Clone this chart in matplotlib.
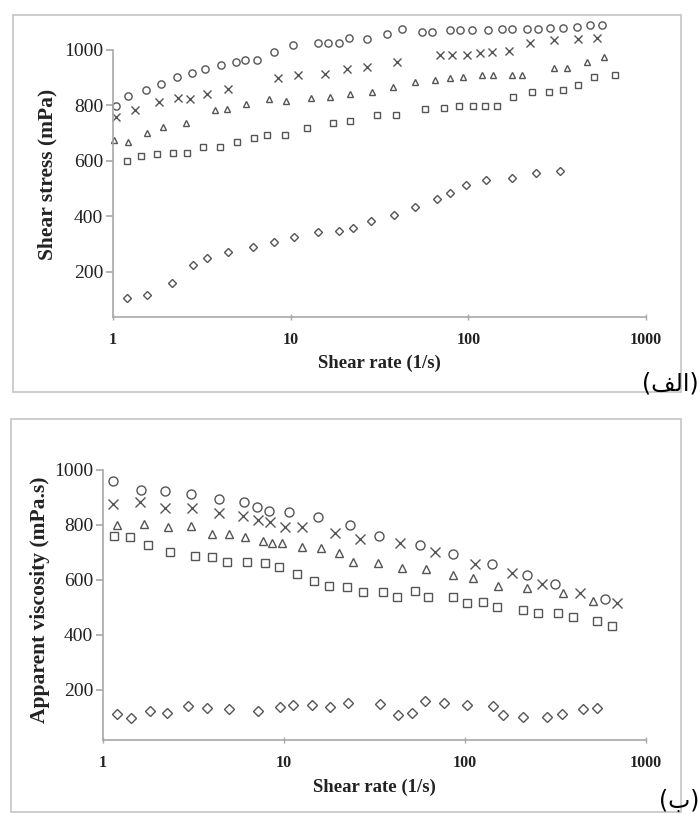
"""
Rheology of the samples: shear stress (a) and apparent viscosity (b)
against shear rate, two stacked log-x scatter panels.
"""

import matplotlib

matplotlib.use("Agg")
import matplotlib.pyplot as plt
from matplotlib.patches import Rectangle

W_PX, H_PX = 699, 814
DPI = 100

SERIF = "Liberation Serif"
MARKER_COLOR = "#555555"
AXIS_COLOR = "#a8a8a8"
BOX_COLOR = "#c9c9c9"
TEXT_COLOR = "#222222"

X_TICKS = [1, 10, 100, 1000]
X_TICK_LABELS = ["1", "10", "100", "1000"]
Y_TICKS = [200, 400, 600, 800, 1000]
X_LABEL = "Shear rate (1/s)"

# ---- panel (a): shear stress (mPa) ----
A_YLABEL = "Shear stress (mPa)"
A_TAG = "(\ufed2\ufedf\ufe8d)"  # (الف) in presentation forms, visual order

a_rate_o = [1.04, 1.21, 1.53, 1.86, 2.29, 2.78, 3.29, 4.05, 4.92, 5.53, 6.46, 8.05,
            10.3, 14.3, 16.2, 18.7, 21.3, 26.9, 34.8, 42.3, 54.8, 62.4, 78.8, 89.7,
            105, 129, 154, 176, 214, 246, 288, 341, 408, 483, 565]
a_stress_o = [798, 834, 856, 877, 903, 917, 931, 946, 957, 964, 964, 993,
              1018, 1025, 1025, 1025, 1042, 1040, 1058, 1076, 1065, 1065, 1072, 1072,
              1072, 1072, 1076, 1076, 1076, 1076, 1079, 1079, 1083, 1090, 1090]

a_rate_x = [1.04, 1.33, 1.81, 2.32, 2.71, 3.38, 4.44, 8.48, 11.0, 15.6, 20.8, 26.9,
            39.6, 69.2, 80.8, 98.2, 116, 136, 169, 222, 303, 414, 529]
a_stress_x = [758, 783, 812, 827, 823, 841, 859, 899, 910, 913, 930, 939,
              957, 982, 982, 982, 989, 993, 996, 1025, 1036, 1040, 1043]

a_rate_tri = [1.01, 1.21, 1.55, 1.91, 2.57, 3.75, 4.38, 5.60, 7.55, 9.41, 13.0, 16.6,
              21.5, 28.7, 37.6, 50.1, 64.9, 78.8, 93.3, 119, 137, 176, 200, 303,
              359, 465, 579]
a_stress_tri = [675, 668, 700, 722, 736, 783, 787, 805, 823, 816, 827, 830,
                841, 848, 866, 884, 892, 899, 903, 910, 910, 910, 910, 935,
                935, 957, 975]

a_rate_sq = [1.20, 1.44, 1.77, 2.18, 2.61, 3.21, 4.00, 4.99, 6.22, 7.36, 9.30, 12.4,
             17.3, 21.5, 30.6, 39.1, 57.0, 72.9, 88.5, 106, 124, 145, 178, 228,
             284, 341, 414, 509, 668]
a_stress_sq = [599, 617, 625, 628, 628, 650, 650, 668, 682, 693, 693, 718,
               736, 742, 765, 765, 787, 791, 798, 798, 798, 798, 830, 848,
               848, 856, 874, 903, 910]

a_rate_dia = [1.20, 1.55, 2.15, 2.82, 3.38, 4.44, 6.13, 8.05, 10.4, 14.3, 18.7, 22.4,
              28.3, 38.1, 50.1, 66.6, 78.8, 96.9, 126, 176, 240, 328]
a_stress_dia = [105, 116, 159, 224, 249, 271, 289, 307, 325, 343, 347, 357,
                383, 404, 433, 462, 484, 513, 531, 538, 556, 563]

# ---- panel (b): apparent viscosity (mPa.s) ----
B_YLABEL = "Apparent viscosity (mPa.s)"
B_TAG = "(\ufe8f)"  # (ب)

b_rate_o = [1.14, 1.62, 2.20, 3.06, 4.37, 6.01, 7.09, 8.27, 10.7, 15.4, 23.2, 33.5,
            56.4, 85.8, 141, 220, 314, 593]
b_visc_o = [960, 927, 924, 913, 895, 884, 865, 851, 847, 829, 800, 760,
            727, 695, 658, 618, 585, 531]

b_rate_x = [1.14, 1.60, 2.20, 3.10, 4.37, 5.94, 7.18, 8.37, 10.1, 12.6, 19.1, 26.3,
            43.7, 68.3, 114, 182, 266, 432, 692]
b_visc_x = [876, 884, 862, 862, 844, 833, 818, 811, 793, 793, 771, 749,
            735, 702, 658, 625, 585, 553, 516]

b_rate_tri = [1.19, 1.69, 2.29, 3.06, 4.00, 4.97, 6.09, 7.65, 8.58, 9.75, 12.6, 16.0,
              20.1, 24.1, 33.1, 44.9, 60.9, 85.8, 111, 152, 220, 348, 510]
b_visc_tri = [800, 804, 793, 796, 767, 767, 756, 742, 735, 735, 720, 716,
              698, 665, 662, 644, 640, 618, 607, 578, 571, 553, 524]

b_rate_sq = [1.15, 1.41, 1.77, 2.35, 3.22, 4.00, 4.84, 6.25, 7.85, 9.38, 11.8, 14.6,
             17.7, 22.3, 27.3, 35.2, 42.1, 52.9, 62.5, 85.8, 103, 126, 150, 209,
             253, 326, 395, 536, 649]
b_visc_sq = [760, 756, 727, 702, 687, 684, 665, 665, 662, 647, 622, 596,
             578, 575, 556, 556, 538, 560, 538, 538, 516, 520, 502, 491,
             480, 480, 466, 451, 433]

b_rate_dia = [1.19, 1.43, 1.82, 2.26, 2.95, 3.75, 4.97, 7.18, 9.50, 11.2, 14.3, 17.9,
              22.6, 33.9, 42.7, 50.9, 60.1, 76.5, 103, 143, 162, 209, 284, 344,
              449, 536]
b_visc_dia = [113, 98, 124, 116, 142, 135, 131, 124, 138, 145, 145, 138,
              153, 149, 109, 116, 160, 153, 145, 142, 109, 102, 102, 113,
              131, 135]


def px_rect(left, top, right, bottom):
    """pixel box -> figure fraction [x0, y0, w, h]"""
    return [left / W_PX, 1 - bottom / H_PX, (right - left) / W_PX, (bottom - top) / H_PX]


def draw_panel(ax, series, ylim, ms):
    for (x, y, marker, scale) in series:
        ax.plot(x, y, linestyle="none", marker=marker, markersize=ms * scale,
                markerfacecolor="none", markeredgecolor=MARKER_COLOR,
                markeredgewidth=1.0, clip_on=False)

    ax.set_xscale("log")
    ax.set_xlim(1, 1000)
    ax.set_ylim(*ylim)
    ax.set_xticks(X_TICKS)
    ax.set_xticklabels(X_TICK_LABELS)
    ax.minorticks_off()
    ax.set_yticks(Y_TICKS)

    for side in ("top", "right"):
        ax.spines[side].set_visible(False)
    for side in ("left", "bottom"):
        ax.spines[side].set_color(AXIS_COLOR)
        ax.spines[side].set_linewidth(1.2)

    ax.tick_params(axis="y", direction="out", length=5, width=1.2,
                   color=AXIS_COLOR, pad=2, labelsize=14, labelcolor=TEXT_COLOR)
    ax.tick_params(axis="x", direction="inout", length=4, width=1,
                   color=AXIS_COLOR, pad=9, labelsize=11.5, labelcolor=TEXT_COLOR)
    for lab in ax.get_yticklabels():
        lab.set_fontfamily(SERIF)
    for lab in ax.get_xticklabels():
        lab.set_fontfamily(SERIF)
        lab.set_fontweight("bold")


def main():
    fig = plt.figure(figsize=(W_PX / DPI, H_PX / DPI), dpi=DPI)

    # panel frames
    fig.add_artist(Rectangle((13 / W_PX, 1 - 392 / H_PX), 668 / W_PX, 377 / H_PX,
                             transform=fig.transFigure, fill=False,
                             ec=BOX_COLOR, lw=1.3))
    fig.add_artist(Rectangle((11 / W_PX, 1 - 812 / H_PX), 670 / W_PX, 393 / H_PX,
                             transform=fig.transFigure, fill=False,
                             ec=BOX_COLOR, lw=1.3))

    ax_a = fig.add_axes(px_rect(113, 50, 646, 317))
    draw_panel(ax_a, [
        (a_rate_o, a_stress_o, "o", 1.0),
        (a_rate_x, a_stress_x, "x", 1.0),
        (a_rate_tri, a_stress_tri, "^", 0.95),
        (a_rate_sq, a_stress_sq, "s", 0.95),
        (a_rate_dia, a_stress_dia, "D", 0.8),
    ], ylim=(36, 1000), ms=5.2)

    ax_b = fig.add_axes(px_rect(103, 470, 646, 740))
    draw_panel(ax_b, [
        (b_rate_o, b_visc_o, "o", 1.0),
        (b_rate_x, b_visc_x, "x", 1.0),
        (b_rate_tri, b_visc_tri, "^", 0.95),
        (b_rate_sq, b_visc_sq, "s", 0.95),
        (b_rate_dia, b_visc_dia, "D", 0.75),
    ], ylim=(18, 1000), ms=6.5)

    # axis titles
    lab_kw = dict(family=SERIF, fontweight="bold", color=TEXT_COLOR)
    fig.text(47 / W_PX, 1 - 174 / H_PX, A_YLABEL, rotation=90, ha="center",
             va="center", fontsize=15.5, **lab_kw)
    fig.text(379 / W_PX, 1 - 363 / H_PX, X_LABEL, ha="center", va="center",
             fontsize=13.5, **lab_kw)
    fig.text(40 / W_PX, 1 - 600 / H_PX, B_YLABEL, rotation=90, ha="center",
             va="center", fontsize=15.5, **lab_kw)
    fig.text(374 / W_PX, 1 - 787 / H_PX, X_LABEL, ha="center", va="center",
             fontsize=13.5, **lab_kw)

    # panel tags (Arabic)
    fig.text(699 / W_PX, 1 - 383 / H_PX, A_TAG, ha="right", va="center",
             fontsize=17, family=["DejaVu Sans"], color="black")
    fig.text(699 / W_PX, 1 - 801 / H_PX, B_TAG, ha="right", va="center",
             fontsize=17, family=["DejaVu Sans"], color="black")

    fig.savefig("out.png", dpi=DPI)


if __name__ == "__main__":
    main()
